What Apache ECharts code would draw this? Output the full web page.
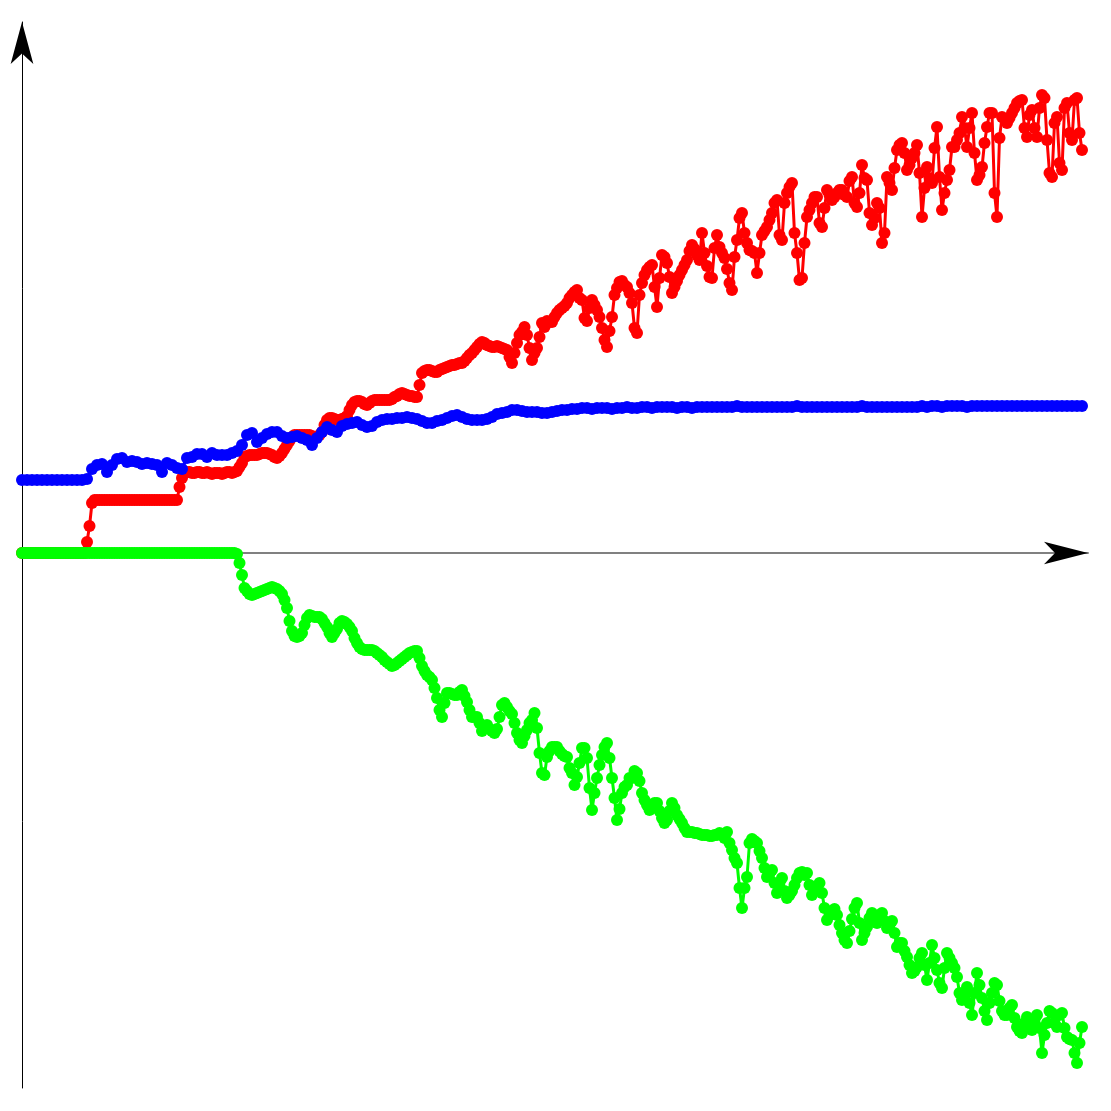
<!DOCTYPE html>
<html>
<head>
<meta charset="utf-8">
<script src="https://cdn.jsdelivr.net/npm/echarts@6/dist/echarts.min.js"></script>
<style>html,body{margin:0;padding:0;background:#fff;}#c{width:1111px;height:1111px;}</style>
</head>
<body>
<div id="c"></div>
<script>
// horizontal axis runs over sample steps (red/green every step, blue every 2nd step)
var X_MAX = 426.4;
var Y_MIN = -535, Y_MAX = 531;

var redValues = [
0,0,0,0,0,0,0,0,0,0,
0,0,0,0,0,0,0,0,0,0,
0,0,0,0,0,0,11,27,50,53,
53,53,53,53,53,53,53,53,53,53,
53,53,53,53,53,53,53,53,53,53,
53,53,53,53,53,53,53,53,53,53,
53,53,53,66,75,80,81,81,80,80,
81,81,80,80,81,80,79,80,80,80,
79,80,81,81,80,81,82,86,90,96,
97,98,98,98,98,99,100,100,100,99,
98,96,95,97,100,104,108,112,116,118,
118,118,118,118,118,118,117,116,116,118,
121,128,133,135,135,134,133,133,134,135,
137,143,148,151,152,152,151,149,148,150,
152,153,153,153,153,153,153,153,154,156,
157,159,160,159,158,157,157,156,156,168,
180,182,183,183,182,181,181,183,184,185,
186,187,188,188,189,190,190,192,195,198,
200,203,206,209,211,210,208,207,206,206,
207,206,205,204,203,196,190,200,210,218,
221,226,218,205,193,200,205,216,230,226,
232,231,231,236,240,243,245,247,250,255,
258,261,263,255,253,235,232,245,253,248,
243,236,225,213,206,222,236,258,265,271,
272,268,266,260,250,225,220,258,270,278,
283,286,288,266,246,275,298,296,290,276,
260,266,272,278,283,288,293,302,308,304,
298,293,320,300,287,276,275,305,318,306,
300,295,284,270,263,296,313,335,340,320,
310,303,302,300,280,300,318,322,326,333,
340,350,353,318,313,350,360,366,370,320,
300,273,275,310,336,343,350,356,356,330,
326,345,363,358,353,356,360,363,363,358,
356,372,376,350,346,360,388,375,373,340,
328,335,350,345,310,320,376,370,363,385,
403,408,410,400,383,388,395,400,408,380,
336,365,386,375,370,405,426,376,343,360,
373,383,406,406,413,420,436,425,406,425,
440,400,373,378,386,410,426,440,440,360,
336,415,436,434,430,435,440,445,450,452,
453,425,416,438,443,425,416,445,458,455,
413,380,376,430,436,390,383,445,450,420,
413,453,455,420,403
];

var blueValues = [
73,73,73,73,73,73,73,73,73,73,
73,73,73,74,84,88,89,81,88,94,
95,91,92,91,89,90,89,88,81,90,
88,85,84,95,96,99,99,96,100,98,
98,98,100,102,108,118,120,111,115,119,
121,121,117,115,116,117,115,113,108,115,
121,126,123,121,127,129,130,131,128,126,
127,131,133,134,134,135,135,136,135,134,
132,130,130,132,133,135,137,138,136,134,
133,133,133,134,136,139,140,141,143,143,
142,141,141,141,140,140,141,142,143,143,
144,144,145,145,144,145,145,145,144,145,
145,146,145,145,146,146,145,146,146,146,
146,145,146,146,145,146,146,146,146,146,
146,146,146,147,146,146,146,146,146,146,
146,146,146,146,146,147,146,146,146,146,
146,146,146,146,146,146,146,146,147,146,
146,146,146,146,146,146,146,146,146,146,
147,146,147,147,146,147,147,147,147,146,
147,147,147,147,147,147,147,147,147,147,
147,147,147,147,147,147,147,147,147,147,
147,147,147
];

var greenValues = [
0,0,0,0,0,0,0,0,0,0,
0,0,0,0,0,0,0,0,0,0,
0,0,0,0,0,0,0,0,0,0,
0,0,0,0,0,0,0,0,0,0,
0,0,0,0,0,0,0,0,0,0,
0,0,0,0,0,0,0,0,0,0,
0,0,0,0,0,0,0,0,0,0,
0,0,0,0,0,0,0,0,0,0,
0,0,0,0,0,0,-1,-10,-22,-35,
-38,-41,-42,-41,-40,-39,-38,-37,-36,-35,
-34,-35,-36,-38,-41,-47,-55,-68,-78,-83,
-84,-83,-80,-72,-65,-62,-63,-64,-64,-64,
-66,-70,-74,-80,-84,-80,-76,-70,-68,-69,
-71,-74,-78,-85,-90,-94,-96,-97,-97,-97,
-97,-98,-100,-102,-104,-107,-109,-111,-113,-112,
-110,-108,-106,-104,-102,-100,-99,-98,-98,-105,
-113,-118,-122,-124,-127,-135,-145,-157,-164,-150,
-140,-140,-141,-142,-142,-139,-137,-143,-149,-157,
-164,-164,-164,-170,-178,-175,-172,-176,-178,-180,
-176,-164,-152,-150,-154,-158,-161,-170,-180,-187,
-190,-183,-177,-170,-167,-160,-175,-200,-220,-222,
-204,-198,-194,-194,-194,-198,-201,-203,-204,-215,
-220,-232,-224,-210,-195,-195,-205,-235,-257,-240,
-225,-212,-202,-194,-190,-205,-225,-245,-267,-256,
-240,-234,-232,-225,-225,-218,-220,-228,-240,-247,
-252,-257,-255,-250,-250,-258,-265,-270,-267,-258,
-250,-255,-262,-266,-270,-275,-279,-279,-279,-280,
-280,-281,-282,-282,-282,-283,-283,-282,-282,-280,
-282,-285,-279,-290,-297,-305,-310,-335,-355,-335,
-324,-290,-286,-288,-290,-298,-305,-315,-324,-320,
-317,-330,-340,-330,-325,-338,-345,-342,-338,-332,
-325,-320,-319,-322,-320,-332,-342,-338,-335,-330,
-340,-355,-367,-362,-360,-356,-362,-372,-380,-387,
-390,-378,-366,-355,-350,-370,-387,-380,-374,-365,
-360,-366,-370,-362,-360,-368,-375,-372,-368,-380,
-394,-390,-390,-398,-404,-412,-420,-418,-414,-405,
-400,-412,-427,-410,-392,-405,-417,-430,-435,-415,
-400,-405,-410,-415,-424,-440,-447,-440,-434,-450,
-462,-440,-420,-432,-445,-458,-467,-450,-440,-430,
-432,-448,-458,-462,-462,-455,-452,-465,-474,-478,
-480,-470,-464,-472,-477,-468,-462,-475,-500,-482,
-470,-458,-460,-470,-474,-462,-460,-475,-484,-486,
-487,-500,-510,-490,-474
];

function pairs(arr, step) { return arr.map(function (v, i) { return [i * step, v]; }); }

function lineSeries(name, color, values, step, extra) {
  var s = {
    name: name,
    type: 'line',
    data: pairs(values, step),
    symbol: 'circle',
    symbolSize: 12,
    showSymbol: true,
    showAllSymbol: true,
    lineStyle: { color: color, width: 3 },
    itemStyle: { color: color },
    emphasis: { disabled: true },
    animation: false
  };
  if (extra) for (var k in extra) s[k] = extra[k];
  return s;
}

var chart = echarts.init(document.getElementById('c'), null, { renderer: 'canvas' });
chart.setOption({
  backgroundColor: '#ffffff',
  animation: false,
  grid: { left: 22, right: 23, top: 22, bottom: 23, containLabel: false },
  xAxis: {
    type: 'value', min: 0, max: X_MAX,
    axisLine: { show: true, onZero: true, lineStyle: { color: '#808080', width: 2 } },
    axisTick: { show: false }, axisLabel: { show: false }, splitLine: { show: false }
  },
  yAxis: {
    type: 'value', min: Y_MIN, max: Y_MAX,
    axisLine: { show: true, onZero: false, symbol: ['none', 'arrow'], symbolSize: [17, 42], symbolOffset: [0, 0],
      lineStyle: { color: '#000000', width: 1 } },
    axisTick: { show: false }, axisLabel: { show: false }, splitLine: { show: false }
  },
  series: [
    lineSeries('red', '#ff0000', redValues, 1, {
      markPoint: {
        silent: true,
        symbol: 'arrow',
        symbolSize: [17, 44],
        symbolRotate: -90,
        symbolOffset: [0, 0],
        itemStyle: { color: '#000000' },
        label: { show: false },
        data: [{ coord: [X_MAX, 0] }]
      }
    }),
    lineSeries('blue', '#0000ff', blueValues, 2),
    lineSeries('green', '#00ff00', greenValues, 1)
  ]
});
</script>
</body>
</html>
